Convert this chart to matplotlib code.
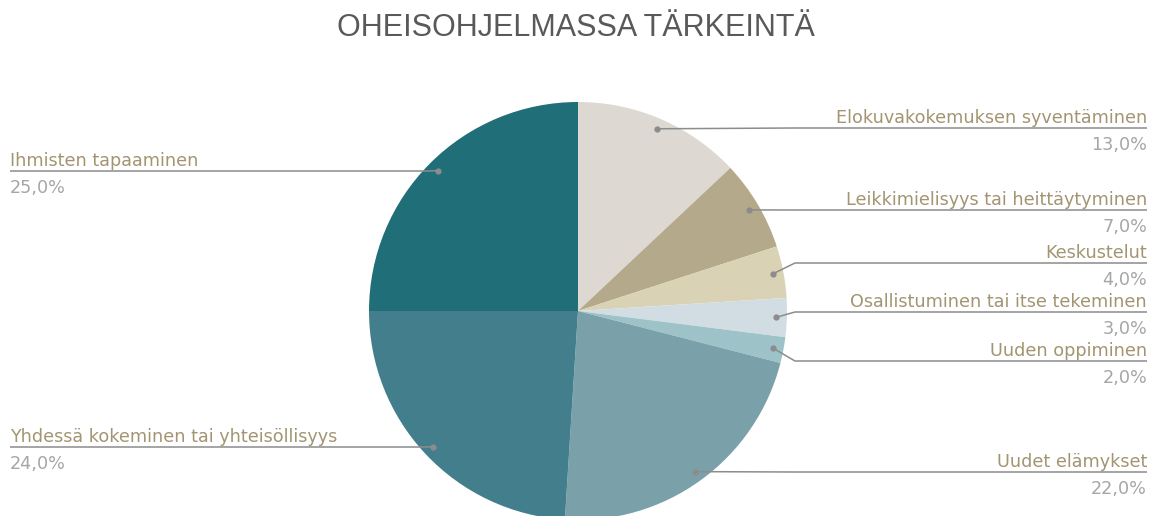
import math

import matplotlib
matplotlib.use("Agg")
import matplotlib.pyplot as plt

W, H = 1150, 516

labels = [
    "Elokuvakokemuksen syventäminen",
    "Leikkimielisyys tai heittäytyminen",
    "Keskustelut",
    "Osallistuminen tai itse tekeminen",
    "Uuden oppiminen",
    "Uudet elämykset",
    "Yhdessä kokeminen tai yhteisöllisyys",
    "Ihmisten tapaaminen",
]
shares = [13.0, 7.0, 4.0, 3.0, 2.0, 22.0, 24.0, 25.0]
colors = ["#DDD8D1", "#B5A98B", "#D9D2B4", "#D2DDE3",
          "#9DC3C9", "#7AA1A9", "#427E8C", "#1F6E78"]

# label layout: pixel row of each leader's horizontal run, and side
label_rows = [128, 210, 263, 312, 361, 472, 447, 171]
label_side = ["R", "R", "R", "R", "R", "R", "L", "L"]

NAME_C, PCT_C, LINE_C = "#A39572", "#A6A6A6", "#8C8C8C"
CX, CY, R = 578, H - 311, 209
FS = 12.7

fig = plt.figure(figsize=(W / 100, H / 100), dpi=100)
ax = fig.add_axes([0, 0, 1, 1])
wedges, _ = ax.pie(shares, colors=colors, startangle=90, counterclock=False,
                   center=(CX, CY), radius=R, wedgeprops=dict(linewidth=0))
ax.set_aspect("auto")
ax.set_xlim(0, W)
ax.set_ylim(0, H)
ax.axis("off")

for w, name, val, row, side in zip(wedges, labels, shares, label_rows, label_side):
    mid = math.radians((w.theta1 + w.theta2) / 2)
    dx = CX + 0.95 * R * math.cos(mid)
    dy = CY + 0.95 * R * math.sin(mid)
    ly = H - row
    if side == "R":
        ex = max(dx, 795)
        ax.plot([dx, ex, 1147], [dy, ly, ly], color=LINE_C, lw=1.1,
                solid_capstyle="butt", zorder=3)
        tx, ha = 1147, "right"
    else:
        ex = dx - 10
        ax.plot([dx, ex, 10], [dy, ly, ly], color=LINE_C, lw=1.1,
                solid_capstyle="butt", zorder=3)
        tx, ha = 10, "left"
    ax.plot([dx], [dy], "o", color=LINE_C, ms=3.5, zorder=4)
    ax.text(tx, ly + 5, name, ha=ha, va="baseline", fontsize=FS,
            color=NAME_C, family="DejaVu Sans")
    ax.text(tx, ly - 22, f"{val:.1f}%".replace(".", ","), ha=ha,
            va="baseline", fontsize=FS, color=PCT_C, family="DejaVu Sans")

fig.text(576 / W, 1 - 28 / H, "OHEISOHJELMASSA TÄRKEINTÄ", ha="center",
         va="center", fontsize=22, color="#595959", family="Liberation Sans")

fig.savefig("out.png", dpi=100)
